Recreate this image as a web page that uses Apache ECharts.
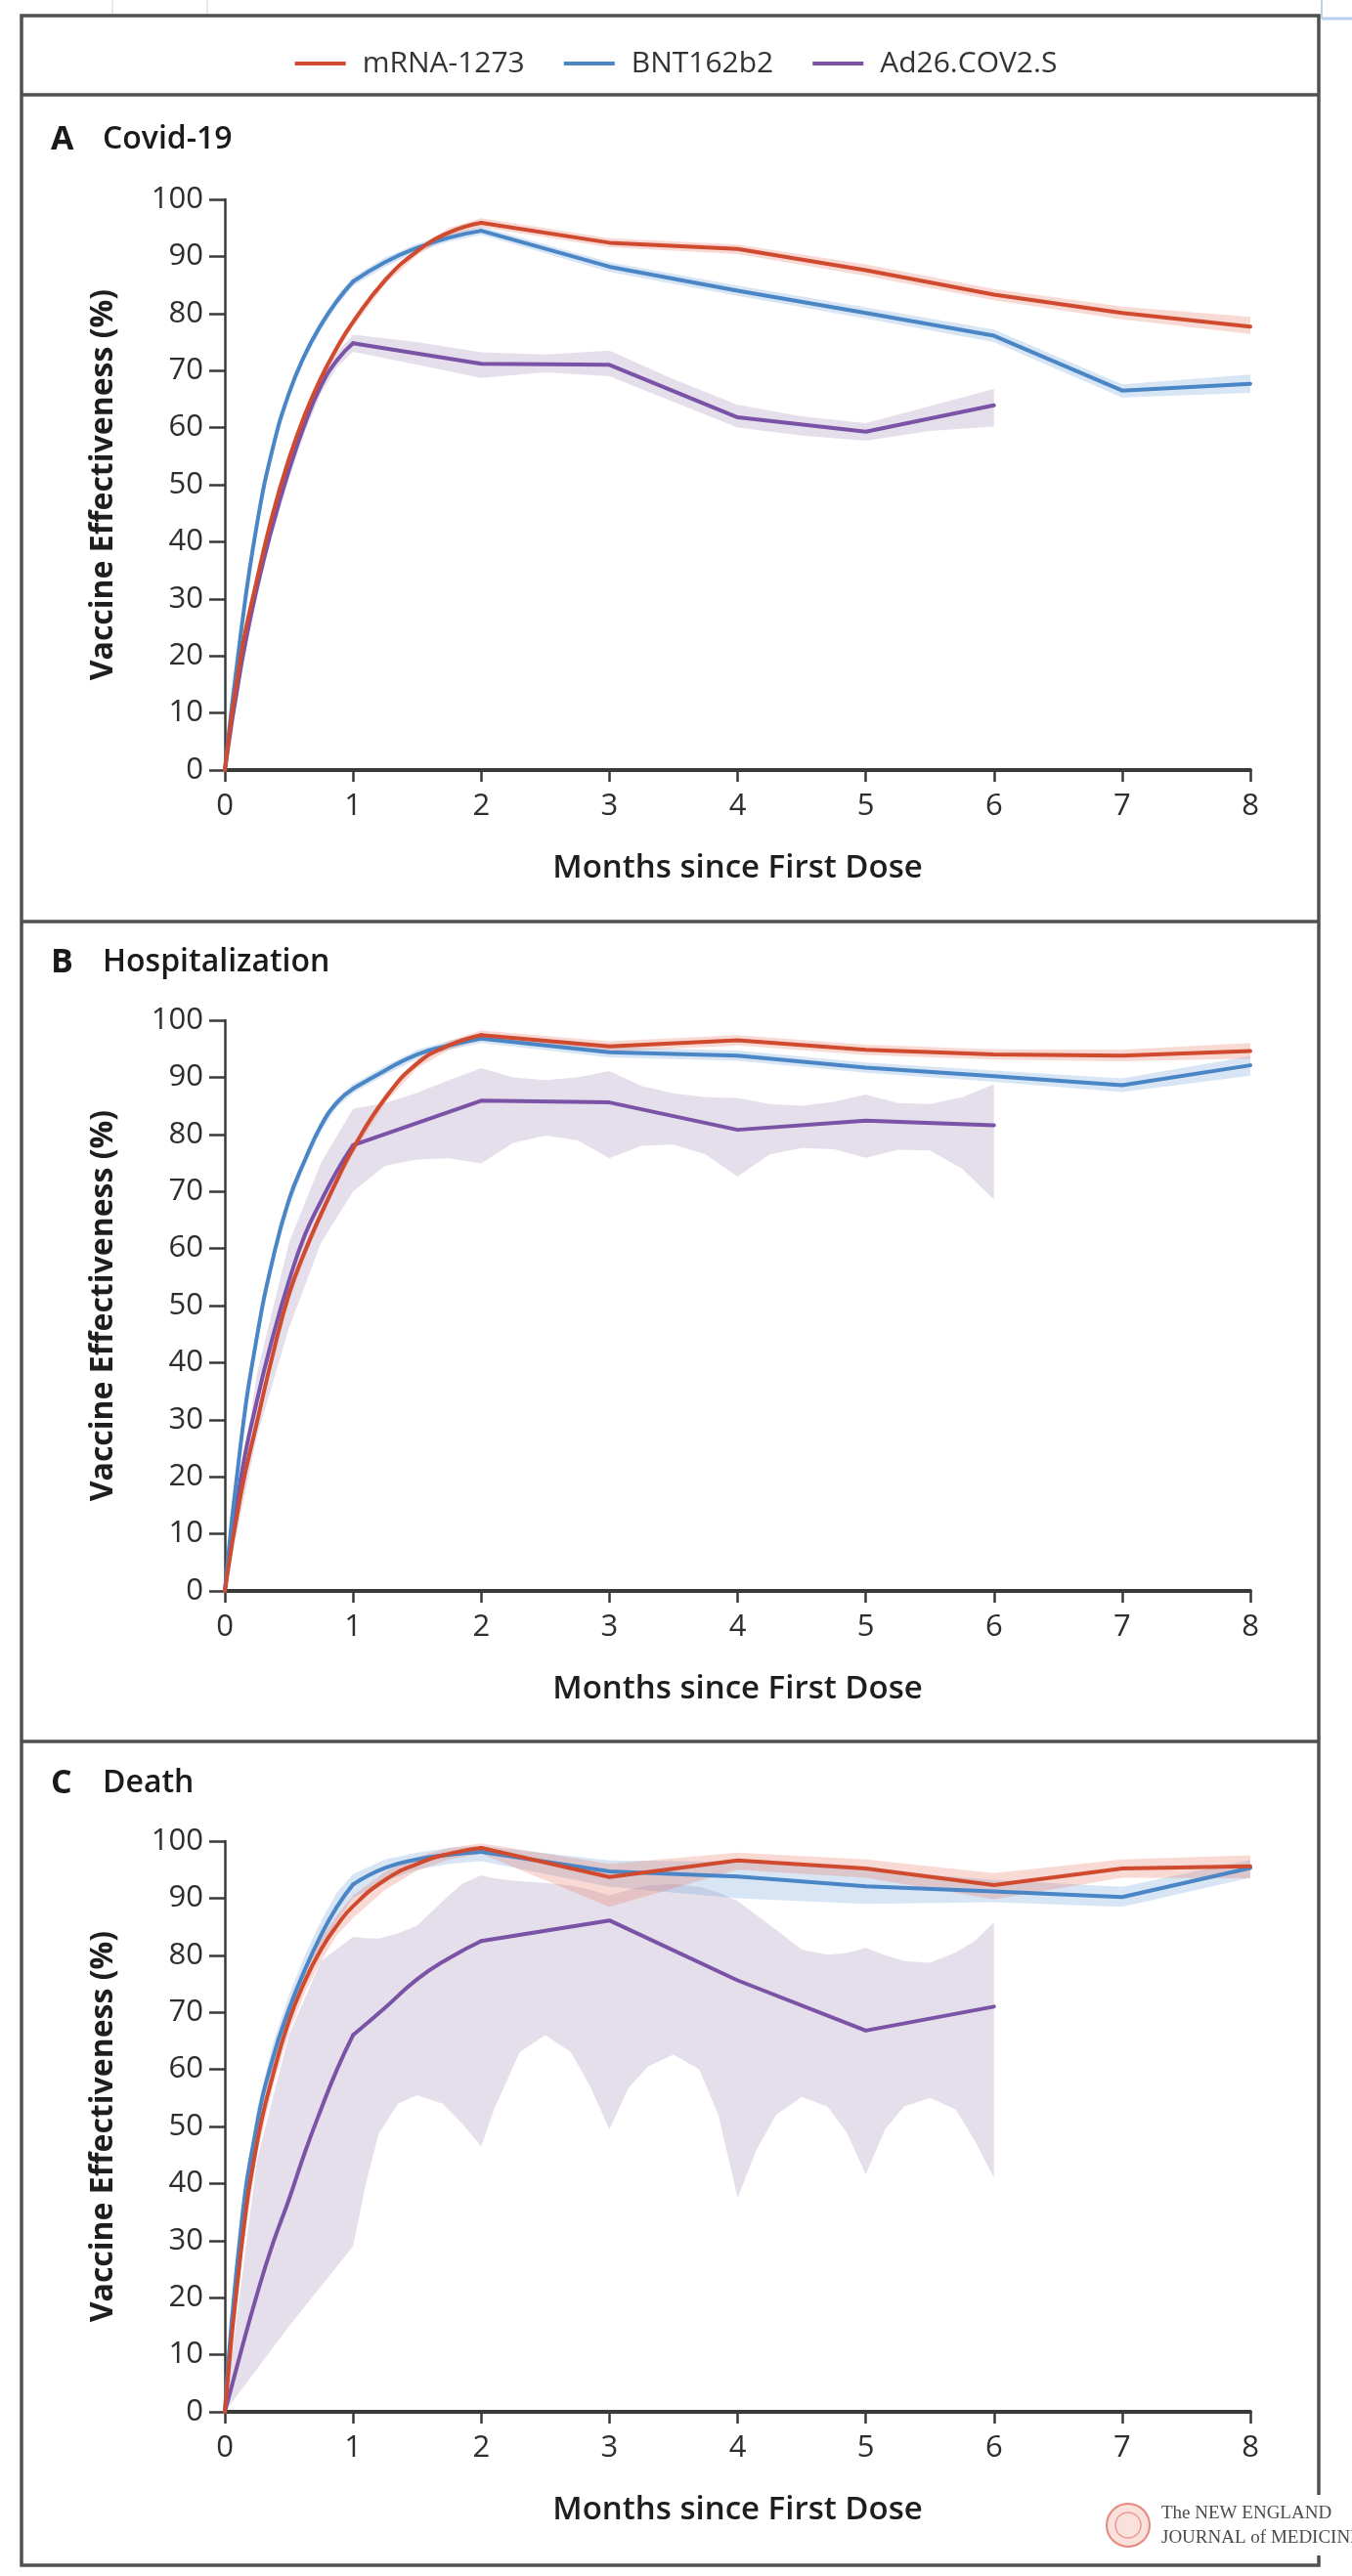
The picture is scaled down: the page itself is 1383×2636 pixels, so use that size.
<!DOCTYPE html>
<html>
<head>
<meta charset="utf-8">
<script src="https://cdn.jsdelivr.net/npm/echarts@6/dist/echarts.min.js"></script>
<style>
html,body{margin:0;padding:0;background:#fff;}
#chart{width:1383px;height:2636px;}
</style>
</head>
<body>
<div id="chart"></div>
<script>
// ---------- data ----------
var seriesNames = ['mRNA-1273', 'BNT162b2', 'Ad26.COV2.S'];
var panelTitles = [['A', 'Covid-19'], ['B', 'Hospitalization'], ['C', 'Death']];
var monthTicks = [0, 1, 2, 3, 4, 5, 6, 7, 8];

// month positions for mRNA-1273 and BNT162b2 lines
var mx = [0, 0.125, 0.25, 0.375, 0.5, 0.625, 0.75, 0.875, 1, 1.25, 1.5, 1.75, 2, 3, 4, 5, 6, 7, 8];
// month positions for Ad26.COV2.S lines (A, B)
var jx = [0, 0.125, 0.25, 0.375, 0.5, 0.625, 0.75, 0.875, 1, 2, 3, 4, 5, 6];
// month positions for Ad26.COV2.S line (C)
var jxC = [0, 0.125, 0.25, 0.375, 0.5, 0.625, 0.75, 0.875, 1, 1.25, 1.5, 1.75, 2, 3, 4, 5, 6];

// Panel A: Covid-19
var aMrna   = [0, 20, 33.3, 45, 54.5, 62.3, 68.7, 74, 78.5, 85.8, 90.9, 94.2, 95.9, 92.4, 91.3, 87.6, 83.3, 80.1, 77.7];
var aMrnaLo = [0, 19, 32.2, 43.9, 53.5, 61.3, 67.8, 73.2, 77.7, 85.1, 90.2, 93.5, 95.1, 91.6, 90.4, 86.6, 82.3, 79, 76.4];
var aMrnaHi = [0, 21, 34.5, 46.2, 55.6, 63.3, 69.7, 74.9, 79.3, 86.6, 91.6, 95, 96.7, 93.2, 92.1, 88.6, 84.3, 81.2, 79.4];
var aBnt    = [0, 24, 43, 56.5, 66, 72.8, 78, 82.2, 85.6, 89, 91.5, 93.3, 94.5, 88.2, 84.0, 80.1, 76.1, 66.5, 67.7];
var aBntLo  = [0, 23, 42, 55.6, 65.1, 71.9, 77.1, 81.4, 84.8, 88.2, 90.8, 92.6, 93.8, 87.3, 83.1, 79.1, 75, 65.3, 66.1];
var aBntHi  = [0, 25, 44, 57.4, 66.9, 73.7, 78.9, 83, 86.4, 89.8, 92.2, 94, 95.2, 89, 84.9, 81.1, 77.2, 67.6, 69.3];
var aAd     = [0, 18, 31.8, 43, 52.5, 60.7, 67.3, 71.8, 74.8, 71.2, 71.0, 61.8, 59.3, 63.9];
var aAdBandX = [0, 0.125, 0.25, 0.375, 0.5, 0.625, 0.75, 0.875, 1, 1.5, 2, 2.5, 3, 3.5, 4, 4.5, 5, 5.5, 6];
var aAdLo   = [0, 17, 30.5, 41.5, 51, 59.3, 66, 70.6, 73.3, 71, 68.7, 69.7, 69, 64.5, 60, 58.6, 57.7, 59.4, 60.2];
var aAdHi   = [0, 19, 33, 44.5, 54, 62, 68.6, 73.2, 76.3, 75, 73.2, 72.8, 73.5, 68.5, 64, 62, 60.8, 63.8, 66.8];

// Panel B: Hospitalization
var bMrna   = [0, 17, 29.5, 41.5, 52, 59.5, 66, 72, 77.5, 86.3, 92.4, 95.6, 97.4, 95.4, 96.5, 94.8, 94.0, 93.8, 94.6];
var bMrnaLo = [0, 16, 28.3, 40.3, 50.8, 58.4, 65, 71.1, 76.6, 85.5, 91.6, 94.8, 96.6, 94.5, 95.6, 93.9, 93.1, 92.8, 93.3];
var bMrnaHi = [0, 18, 30.7, 42.7, 53.2, 60.6, 67, 72.9, 78.4, 87.1, 93.2, 96.4, 98.2, 96.3, 97.4, 95.7, 94.9, 94.8, 96];
var bBnt    = [0, 26, 44.5, 58.2, 68.5, 75.5, 81.5, 85.6, 88, 91.2, 94, 95.6, 96.8, 94.4, 93.8, 91.7, 90.2, 88.6, 92.1];
var bBntLo  = [0, 25, 43.3, 57, 67.4, 74.5, 80.6, 84.8, 87.2, 90.4, 93.2, 94.8, 96, 93.5, 92.9, 90.8, 89.2, 87.4, 90.3];
var bBntHi  = [0, 27, 45.7, 59.4, 69.6, 76.5, 82.4, 86.4, 88.8, 92, 94.8, 96.4, 97.6, 95.3, 94.7, 92.6, 91.2, 89.8, 93.7];
var bAd     = [0, 19.8, 33.3, 44.6, 54.3, 62.4, 68.3, 73.6, 78.1, 85.9, 85.6, 80.8, 82.4, 81.6];
var bAdBandX = [0, 0.25, 0.5, 0.75, 1, 1.25, 1.5, 1.75, 2, 2.25, 2.5, 2.75, 3, 3.25, 3.5, 3.75, 4, 4.25, 4.5, 4.75, 5, 5.25, 5.5, 5.75, 6];
var bAdLo   = [0, 27, 46, 61, 70, 74.5, 75.6, 75.8, 74.9, 78.5, 79.8, 79, 75.8, 78, 78.2, 76.5, 72.6, 76.5, 77.6, 77.4, 75.9, 77.3, 77.2, 74, 68.6];
var bAdHi   = [0, 38, 61, 75, 84.5, 85.5, 87.3, 89.5, 91.6, 90, 89.5, 90, 91.1, 88.5, 87.2, 86.5, 86.4, 85.3, 85, 85.7, 87, 85.5, 85.3, 86.5, 88.8];

// Panel C: Death
var cMrna   = [0, 28, 47, 59, 68.5, 75.5, 81, 85.2, 88.6, 93.2, 96, 97.8, 98.8, 93.7, 96.6, 95.2, 92.3, 95.2, 95.6];
var cMrnaLo = [0, 26, 45, 57, 66.5, 73.5, 79, 83.5, 86.5, 91.5, 94.8, 96.8, 97.8, 88.5, 95, 93.6, 89.8, 93.6, 93.5];
var cMrnaHi = [0, 30, 49, 61, 70.5, 77.5, 83, 87, 90.5, 94.6, 97.2, 98.8, 99.6, 96, 98, 96.8, 94.4, 96.8, 97.5];
var cBnt    = [0, 32, 50.3, 62, 70.5, 77.5, 83.5, 88.5, 92.4, 95.3, 96.8, 97.6, 98.1, 94.7, 93.8, 92.1, 91.2, 90.2, 95.3];
var cBntLo  = [0, 29, 47.5, 59.5, 68, 75, 81, 86, 90, 93, 95, 96, 96.5, 92, 90, 89, 89.3, 88.5, 93.6];
var cBntHi  = [0, 35, 53, 64.5, 73, 80, 86, 91, 94.2, 96.8, 98, 98.8, 99.2, 96.6, 96.4, 95, 93.2, 92, 96.7];
var cAd     = [0, 10.5, 20.5, 29.5, 37.2, 45.5, 53, 60, 66, 70.8, 75.8, 79.5, 82.5, 86.1, 75.6, 66.8, 71.0];
var cAdBandX = [0, 0.25, 0.5, 0.75, 1, 1.1, 1.2, 1.35, 1.5, 1.7, 1.85, 2, 2.1, 2.2, 2.3, 2.5, 2.7, 2.85, 3, 3.15, 3.3, 3.5, 3.7, 3.85, 4, 4.15, 4.3, 4.5, 4.7, 4.85, 5, 5.15, 5.3, 5.5, 5.7, 5.85, 6];
var cAdLo   = [0, 7.5, 15, 22, 29, 40, 48.7, 54, 55.5, 54, 50.5, 46.5, 53, 58, 63, 66, 63, 57, 49.5, 56.8, 60.5, 62.6, 60, 52, 37.5, 46, 52, 55.2, 53.5, 49, 41.6, 49.5, 53.5, 55, 53, 47.5, 41];
var cAdHi   = [0, 44, 66, 79, 83.2, 83, 82.9, 83.8, 85.2, 89.5, 92.5, 94, 93.5, 93.2, 93, 92.7, 92.2, 91.5, 90.5, 91.5, 92.2, 92.5, 92, 91, 89.5, 87, 84.5, 81, 80.1, 80.4, 81.3, 80, 79, 78.7, 80.5, 82.5, 85.8];

// ---------- styling ----------
var RED = '#cf4a2e', BLUE = '#4a86c6', PURPLE = '#7a52a6';
var RED_BAND = 'rgba(232,120,100,0.28)', BLUE_BAND = 'rgba(110,160,215,0.28)', PURPLE_BAND = 'rgba(170,150,188,0.3)';
var FONT = '"Open Sans", "Noto Sans", sans-serif';
var AXIS_COLOR = '#3a3a3a';
var gridTops = [204, 1044, 1884];
var GRID_LEFT = 230, GRID_W = 1049, GRID_H = 584;

// which stretches of each line are drawn as smooth curves (style only)
var SEG_MRNA = [[0, 12, 0.5], [12, 18, 0]];
var SEG_BNT  = [[0, 8, 0.5], [8, 12, 0.5], [12, 18, 0]];
var SEG_AD   = [[0, 8, 0.5], [8, 13, 0]];
var SEG_AD_C = [[0, 8, 0.5], [8, 12, 0.5], [12, 16, 0]];

function pairs(xs, ys) { return xs.map(function (x, i) { return [x, ys[i]]; }); }

function lineSeries(name, g, xs, ys, color, segs) {
  var all = pairs(xs, ys);
  return segs.map(function (s) {
    return {
      type: 'line', name: name, xAxisIndex: g, yAxisIndex: g,
      data: all.slice(s[0], s[1] + 1), symbol: 'none', showSymbol: false,
      smooth: s[2] ? s[2] : false,
      lineStyle: { color: color, width: 4, cap: 'round', join: 'round' }, itemStyle: { color: color },
      z: 3, silent: true
    };
  });
}

function bandSeries(g, xs, lo, hi, color) {
  return {
    type: 'custom', xAxisIndex: g, yAxisIndex: g, silent: true, z: 1, clip: true,
    data: xs.map(function (x, i) { return [x, lo[i], hi[i]]; }),
    encode: { x: 0, y: [1, 2] },
    renderItem: function (params, api) {
      if (params.dataIndex !== 0) return null;
      var pts = [];
      for (var i = 0; i < xs.length; i++) pts.push(api.coord([xs[i], hi[i]]));
      for (var j = xs.length - 1; j >= 0; j--) pts.push(api.coord([xs[j], lo[j]]));
      return { type: 'polygon', shape: { points: pts }, style: { fill: color, stroke: null } };
    }
  };
}

var grids = [], xAxes = [], yAxes = [];
for (var g = 0; g < 3; g++) {
  grids.push({ left: GRID_LEFT, top: gridTops[g], width: GRID_W, height: GRID_H, containLabel: false });
  xAxes.push({
    type: 'value', gridIndex: g, min: monthTicks[0], max: monthTicks[monthTicks.length - 1], interval: 1,
    axisLine: { show: true, onZero: false, lineStyle: { color: AXIS_COLOR, width: 4 } },
    axisTick: { show: true, length: 12, lineStyle: { color: AXIS_COLOR, width: 2.5 } },
    axisLabel: { fontSize: 31, color: '#2e2e2e', margin: 22, fontFamily: FONT },
    splitLine: { show: false },
    name: 'Months since First Dose', nameLocation: 'middle', nameGap: 84,
    nameTextStyle: { fontSize: 33, fontWeight: 600, color: '#1e1e1e', fontFamily: FONT }
  });
  yAxes.push({
    type: 'value', gridIndex: g, min: 0, max: 100, interval: 10,
    axisLine: { show: true, lineStyle: { color: AXIS_COLOR, width: 2.5 } },
    axisTick: { show: true, length: 16, lineStyle: { color: AXIS_COLOR, width: 2.5 } },
    axisLabel: { fontSize: 31, color: '#2e2e2e', margin: 22, fontFamily: FONT },
    splitLine: { show: false },
    name: 'Vaccine Effectiveness (%)', nameLocation: 'middle', nameGap: 108,
    nameTextStyle: { fontSize: 32, fontWeight: 'bold', color: '#1e1e1e', fontFamily: FONT }
  });
}

var series = [].concat(
  bandSeries(0, aAdBandX, aAdLo, aAdHi, PURPLE_BAND),
  bandSeries(0, mx, aBntLo, aBntHi, BLUE_BAND),
  bandSeries(0, mx, aMrnaLo, aMrnaHi, RED_BAND),
  lineSeries(seriesNames[2], 0, jx, aAd, PURPLE, SEG_AD),
  lineSeries(seriesNames[1], 0, mx, aBnt, BLUE, SEG_BNT),
  lineSeries(seriesNames[0], 0, mx, aMrna, RED, SEG_MRNA),

  bandSeries(1, bAdBandX, bAdLo, bAdHi, PURPLE_BAND),
  bandSeries(1, mx, bBntLo, bBntHi, BLUE_BAND),
  bandSeries(1, mx, bMrnaLo, bMrnaHi, RED_BAND),
  lineSeries(seriesNames[2], 1, jx, bAd, PURPLE, SEG_AD),
  lineSeries(seriesNames[1], 1, mx, bBnt, BLUE, SEG_BNT),
  lineSeries(seriesNames[0], 1, mx, bMrna, RED, SEG_MRNA),

  bandSeries(2, cAdBandX, cAdLo, cAdHi, PURPLE_BAND),
  bandSeries(2, mx, cBntLo, cBntHi, BLUE_BAND),
  bandSeries(2, mx, cMrnaLo, cMrnaHi, RED_BAND),
  lineSeries(seriesNames[2], 2, jxC, cAd, PURPLE, SEG_AD_C),
  lineSeries(seriesNames[1], 2, mx, cBnt, BLUE, SEG_BNT),
  lineSeries(seriesNames[0], 2, mx, cMrna, RED, SEG_MRNA)
);

// frame, panel titles and logo
var BORDER = '#505050';
var titleY = [143, 985, 1825];
var graphics = [
  { type: 'rect', shape: { x: 22, y: 16, width: 1327, height: 2609 }, style: { fill: null, stroke: BORDER, lineWidth: 3.5 }, z: 10 },
  { type: 'line', shape: { x1: 22, y1: 97, x2: 1349, y2: 97 }, style: { stroke: BORDER, lineWidth: 3.5 }, z: 10 },
  { type: 'line', shape: { x1: 22, y1: 943, x2: 1349, y2: 943 }, style: { stroke: BORDER, lineWidth: 3.5 }, z: 10 },
  { type: 'line', shape: { x1: 22, y1: 1782, x2: 1349, y2: 1782 }, style: { stroke: BORDER, lineWidth: 3.5 }, z: 10 },
  // faint window marks at the very top
  { type: 'line', shape: { x1: 115, y1: 0, x2: 115, y2: 14 }, style: { stroke: '#e2e2e2', lineWidth: 1.5 }, z: 10 },
  { type: 'line', shape: { x1: 212, y1: 0, x2: 212, y2: 14 }, style: { stroke: '#e2e2e2', lineWidth: 1.5 }, z: 10 },
  { type: 'line', shape: { x1: 1352, y1: 0, x2: 1352, y2: 19 }, style: { stroke: '#b9d0ec', lineWidth: 2 }, z: 10 },
  { type: 'line', shape: { x1: 1352, y1: 19, x2: 1383, y2: 19 }, style: { stroke: '#b9d0ec', lineWidth: 3 }, z: 10 },
  // logo area
  { type: 'rect', shape: { x: 1118, y: 2553, width: 265, height: 62 }, style: { fill: '#ffffff' }, z: 11 },
  { type: 'circle', shape: { cx: 1154, cy: 2584, r: 22 }, style: { fill: '#fbe1dc', stroke: '#e8877c', lineWidth: 2 }, z: 12 },
  { type: 'circle', shape: { cx: 1154, cy: 2584, r: 13 }, style: { fill: null, stroke: '#ec9b91', lineWidth: 1.5 }, z: 12 },
  { type: 'text', style: { x: 1188, y: 2572, text: 'The NEW ENGLAND', fill: '#4a4a4a', font: '19px "Liberation Serif", "DejaVu Serif", serif', verticalAlign: 'middle' }, z: 12 },
  { type: 'text', style: { x: 1188, y: 2597, text: 'JOURNAL of MEDICINE', fill: '#4a4a4a', font: '19px "Liberation Serif", "DejaVu Serif", serif', verticalAlign: 'middle' }, z: 12 }
];
for (var t = 0; t < 3; t++) {
  graphics.push({ type: 'text', style: { x: 52, y: titleY[t], text: panelTitles[t][0], fill: '#1a1a1a', font: 'bold 34px ' + FONT, verticalAlign: 'middle' }, z: 10 });
  graphics.push({ type: 'text', style: { x: 105, y: titleY[t], text: panelTitles[t][1], fill: '#1a1a1a', font: '600 32px ' + FONT, verticalAlign: 'middle' }, z: 10 });
}

var chart = echarts.init(document.getElementById('chart'), null, { renderer: 'canvas', width: 1383, height: 2636 });
chart.setOption({
  animation: false,
  backgroundColor: '#ffffff',
  legend: {
    data: seriesNames, top: 45, left: 'center', icon: 'rect', itemWidth: 52, itemHeight: 4, itemGap: 40,
    textStyle: { fontSize: 30, color: '#333', fontFamily: FONT, padding: [0, 0, 0, 12] },
    selectedMode: false
  },
  grid: grids, xAxis: xAxes, yAxis: yAxes, series: series, graphic: graphics
});
</script>
</body>
</html>
